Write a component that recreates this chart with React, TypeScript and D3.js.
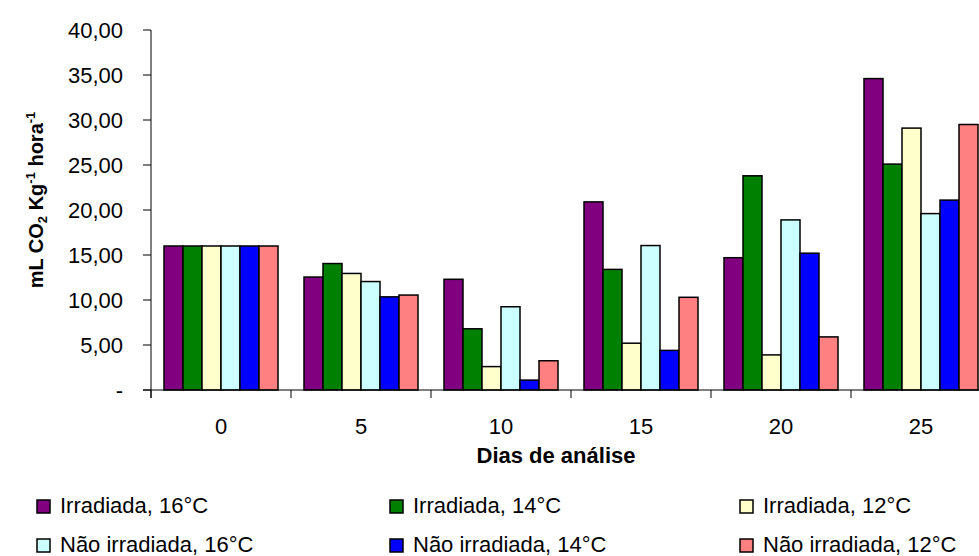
import * as d3 from "d3";

const days = ["0", "5", "10", "15", "20", "25"];
const seriesNames = [
  "Irradiada, 16°C",
  "Irradiada, 14°C",
  "Irradiada, 12°C",
  "Não irradiada, 16°C",
  "Não irradiada, 14°C",
  "Não irradiada, 12°C",
];
const seriesColors = ["#800080", "#008000", "#FFFFCC", "#CCFFFF", "#0000FF", "#FF8080"];

// one array per series, value per day
const irr16 = [16.0, 12.55, 12.3, 20.9, 14.7, 34.6];
const irr14 = [16.0, 14.05, 6.8, 13.4, 23.8, 25.1];
const irr12 = [16.0, 12.95, 2.6, 5.2, 3.9, 29.1];
const nao16 = [16.0, 12.05, 9.25, 16.05, 18.9, 19.6];
const nao14 = [16.0, 10.35, 1.1, 4.4, 15.2, 21.1];
const nao12 = [16.0, 10.55, 3.25, 10.3, 5.9, 29.5];
const series = [irr16, irr14, irr12, nao16, nao14, nao12];

const yTicks = [0, 5, 10, 15, 20, 25, 30, 35, 40];

const W = 979;
const H = 556;
const font = "'Liberation Sans', Arial, sans-serif";

export default function App() {
  const x0 = d3
    .scaleBand<string>()
    .domain(days)
    .range([151, 991])
    .paddingInner(26 / 140)
    .paddingOuter(13 / 140);
  const x1 = d3
    .scaleBand<number>()
    .domain(d3.range(series.length))
    .range([0, x0.bandwidth()]);
  const y = d3.scaleLinear().domain([0, 40]).range([390, 30]);

  const gap = (x0.step() - x0.bandwidth()) / 2;
  const bounds = days.map((d) => (x0(d) ?? 0) - gap);
  bounds.push((x0(days[days.length - 1]) ?? 0) + x0.bandwidth() + gap);

  const fmt = (v: number) => (v === 0 ? "-" : v.toFixed(2).replace(".", ","));

  const legendCols = [37, 390, 740];
  const legendRows = [513, 552];

  return (
    <div style={{ position: "fixed", left: 0, top: 0 }}>
      <svg width={W} height={H} style={{ display: "block", background: "#fff" }} fontFamily={font}>
        {/* bars */}
        {days.map((d, i) => (
          <g key={d} transform={`translate(${x0(d)},0)`}>
            {series.map((s, j) => (
              <rect
                key={j}
                x={x1(j)}
                y={y(s[i])}
                width={x1.bandwidth()}
                height={y(0) - y(s[i])}
                fill={seriesColors[j]}
                stroke="#000"
                strokeWidth={1.5}
              />
            ))}
          </g>
        ))}

        {/* y axis */}
        <line x1={151} x2={151} y1={y(40)} y2={398} stroke="#000" strokeWidth={1} />
        {yTicks.map((t) => (
          <g key={t}>
            <line x1={143} x2={151} y1={y(t)} y2={y(t)} stroke="#000" strokeWidth={1} />
            <text x={123} y={y(t)} dy="0.36em" textAnchor="end" fontSize={22} fill="#000">
              {fmt(t)}
            </text>
          </g>
        ))}

        {/* x axis */}
        <line x1={143} x2={W} y1={y(0)} y2={y(0)} stroke="#000" strokeWidth={1} />
        {bounds.map((b, i) => (
          <line key={i} x1={b} x2={b} y1={y(0)} y2={398} stroke="#000" strokeWidth={1} />
        ))}
        {days.map((d) => (
          <text
            key={d}
            x={(x0(d) ?? 0) + x0.bandwidth() / 2}
            y={434}
            textAnchor="middle"
            fontSize={22}
            fill="#000"
          >
            {d}
          </text>
        ))}
        <text x={556} y={463} textAnchor="middle" fontSize={22} fontWeight="bold" fill="#000">
          Dias de análise
        </text>

        {/* y title */}
        <text
          transform="translate(43,200) rotate(-90)"
          textAnchor="middle"
          fontSize={20}
          fontWeight="bold"
          fill="#000"
        >
          mL CO
          <tspan fontSize={13} dy={4}>2</tspan>
          <tspan dy={-4}> Kg</tspan>
          <tspan fontSize={13} dy={-8}>-1</tspan>
          <tspan dy={8}> hora</tspan>
          <tspan fontSize={13} dy={-8}>-1</tspan>
        </text>

        {/* legend */}
        {seriesNames.map((name, j) => {
          const col = j % 3;
          const row = Math.floor(j / 3);
          const lx = legendCols[col];
          const ly = legendRows[row];
          return (
            <g key={name}>
              <rect
                x={lx}
                y={ly - 13}
                width={13}
                height={13}
                fill={seriesColors[j]}
                stroke="#000"
                strokeWidth={1.5}
              />
              <text x={lx + 23} y={ly} fontSize={22} fill="#000">
                {name}
              </text>
            </g>
          );
        })}
      </svg>
    </div>
  );
}
